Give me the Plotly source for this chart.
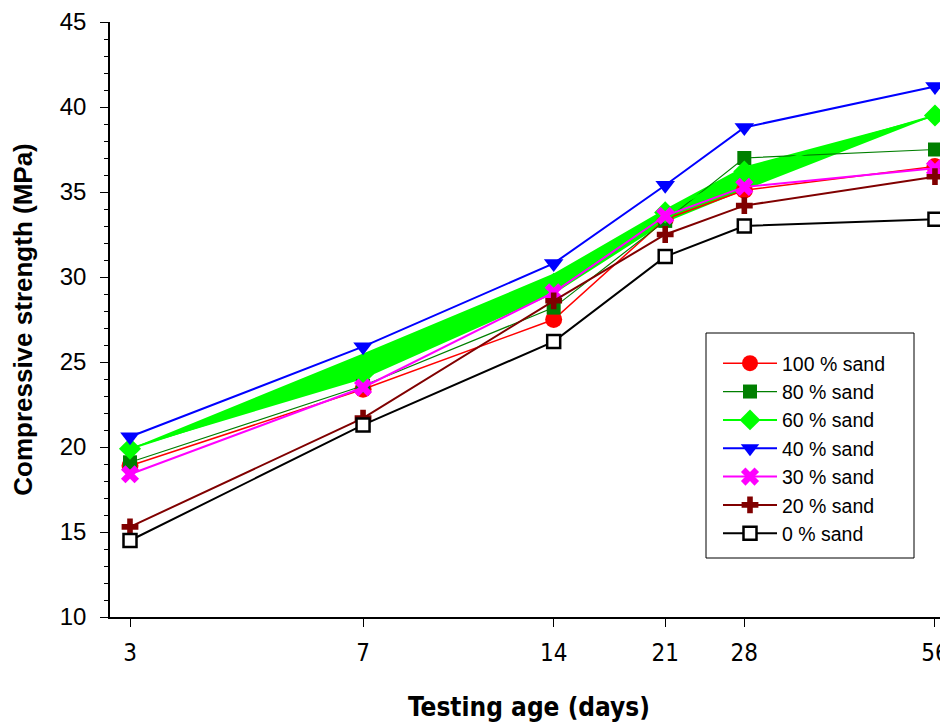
import math
import plotly.graph_objects as go

days = [3, 7, 14, 21, 28, 56]
tick_labels = ["3", "7", "14", "21", "28", "56"]

sand_100 = [18.9, 23.4, 27.5, 33.4, 35.1, 36.5]
sand_80 = [19.1, 23.6, 28.2, 33.3, 37.0, 37.5]
sand_60 = [19.9, 24.3, 29.6, 33.8, 36.2, 39.5]
sand_40 = [20.6, 25.9, 30.8, 35.4, 38.8, 41.2]
sand_30 = [18.4, 23.5, 29.1, 33.6, 35.3, 36.4]
sand_20 = [15.3, 21.7, 28.6, 32.5, 34.2, 35.9]
sand_0 = [14.5, 21.3, 26.2, 31.2, 33.0, 33.4]

# green band drawn around the 60 % series in the original
band_upper = [19.9, 25.5, 30.2, 34.0, 36.5, 39.5]
band_lower = [19.9, 24.0, 29.0, 33.2, 35.1, 39.5]

ARIAL = "Liberation Sans, Arial, sans-serif"
NARROW = "Liberation Sans Narrow, Arial Narrow, DejaVu Sans Condensed, Liberation Sans, sans-serif"

fig = go.Figure()

fig.add_trace(go.Scatter(x=days, y=band_lower, mode="lines",
                         line=dict(width=0, color="#00FF00"),
                         showlegend=False, hoverinfo="skip"))
fig.add_trace(go.Scatter(x=days, y=band_upper, mode="lines", fill="tonexty",
                         fillcolor="#00FF00",
                         line=dict(width=0, color="#00FF00"),
                         showlegend=False, hoverinfo="skip"))

series = [
    ("100 % sand", sand_100, "#FF0000", "circle", 17, 1.5, None),
    ("80 % sand", sand_80, "#007F00", "square", 14, 1.2, None),
    ("60 % sand", sand_60, "#00FF00", "diamond", 17, 2, None),
    ("40 % sand", sand_40, "#0000FF", "triangle-down", 17, 2, None),
    ("30 % sand", sand_30, "#FF00FF", "x", 16, 2, None),
    ("20 % sand", sand_20, "#800000", "cross", 14, 2, None),
    ("0 % sand", sand_0, "#000000", "square", 13, 2, "open"),
]

for name, vals, col, sym, size, lw, style in series:
    if style == "open":
        marker = dict(symbol=sym, size=size, color="#FFFFFF",
                      line=dict(color=col, width=2.5))
    else:
        marker = dict(symbol=sym, size=size, color=col, line=dict(width=0))
    fig.add_trace(go.Scatter(x=days, y=vals, mode="lines+markers", name=name,
                             line=dict(color=col, width=lw), marker=marker))

x0 = math.log10(3) - 20 / 633.3
x1 = x0 + 838 / 633.3

# page has an 8 px body margin; plot area spans page x 110..948, y 22..617
PL, PR, PT, PB = 110, 948, 22, 617
def px(x):
    return (x - PL) / (PR - PL)
def py(y):
    return (PB - y) / (PB - PT)

fig.add_shape(type="rect", xref="paper", yref="paper",
              x0=px(706), x1=px(914), y0=py(558), y1=py(333),
              fillcolor="white", line=dict(color="black", width=1),
              layer="above")

fig.update_layout(
    width=940, height=714,
    margin=dict(l=102, r=0, t=14, b=105),
    paper_bgcolor="white", plot_bgcolor="white",
    font=dict(family=ARIAL, color="black"),
    showlegend=True,
    legend=dict(x=px(718), y=py(344),
                xanchor="left", yanchor="top", traceorder="normal",
                bgcolor="rgba(0,0,0,0)", borderwidth=0,
                font=dict(family=ARIAL, size=19.5, color="black"),
                itemwidth=54, tracegroupgap=0),
    xaxis=dict(type="log", range=[x0, x1], automargin=False,
               tickmode="array", tickvals=days, ticktext=tick_labels,
               ticks="outside", ticklen=8, tickwidth=1.2, tickcolor="black",
               showline=True, linecolor="black", linewidth=1.5,
               showgrid=False, zeroline=False,
               ticklabeloverflow="allow",
               tickfont=dict(family=NARROW, size=24, color="black"),
               ticklabelstandoff=5,
               title=dict(text="Testing age (days)",
                          font=dict(family=NARROW, size=26, color="black",
                                    weight="bold"),
                          standoff=33)),
    yaxis=dict(range=[10, 45], dtick=5, tick0=10, automargin=False,
               ticks="outside", ticklen=8, tickwidth=1.2, tickcolor="black",
               minor=dict(dtick=1, ticks="outside", ticklen=4,
                          tickcolor="black", tickwidth=1.2, showgrid=False),
               showline=True, linecolor="black", linewidth=1.5,
               showgrid=False, zeroline=False,
               ticklabeloverflow="allow",
               tickfont=dict(family=ARIAL, size=24, color="black"),
               ticklabelstandoff=9,
               title=dict(text="Compressive strength (MPa)",
                          font=dict(family=ARIAL, size=26, color="black",
                                    weight="bold"),
                          standoff=21)),
)

fig.write_html("out.html")
